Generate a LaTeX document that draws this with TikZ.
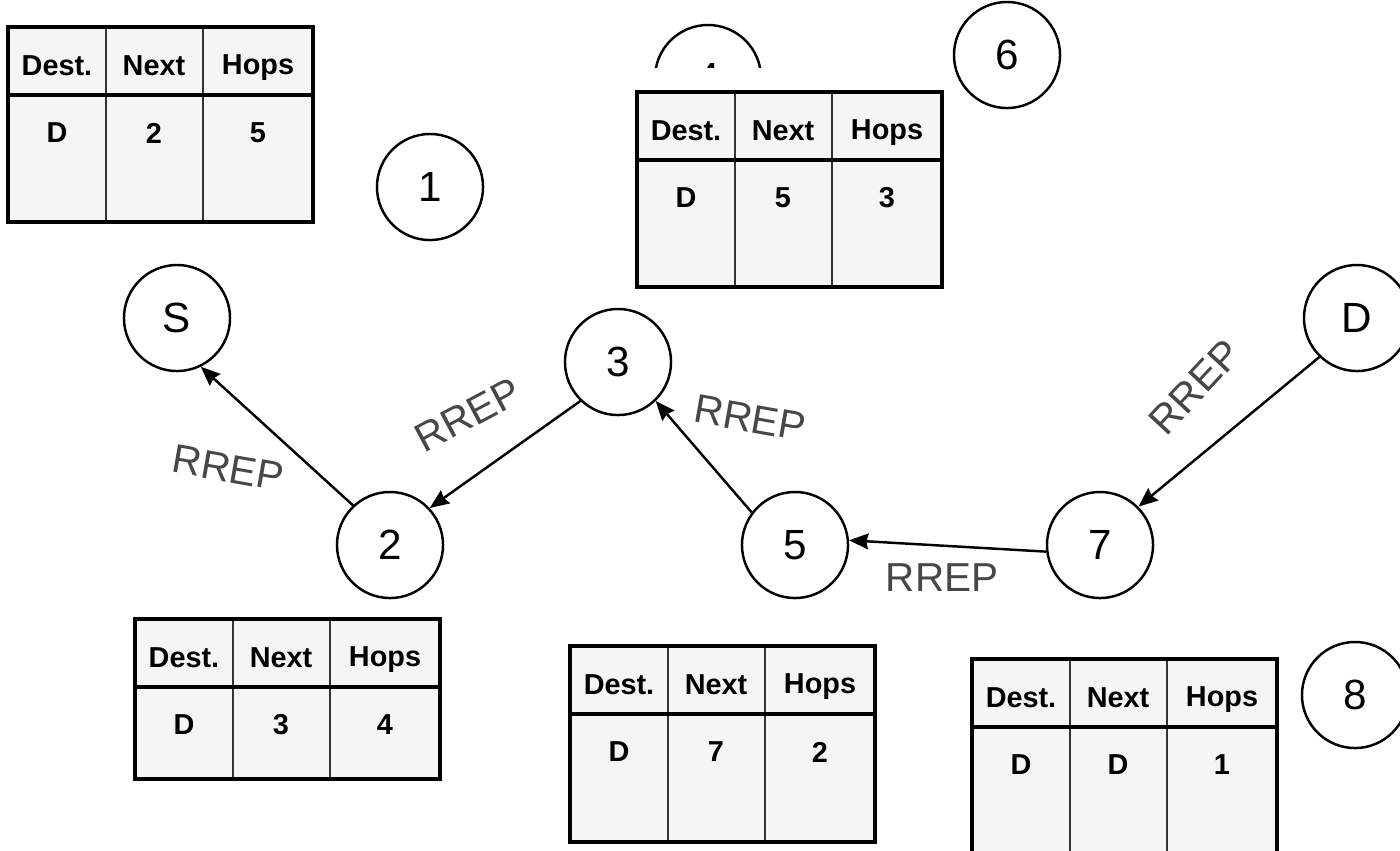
\documentclass[tikz,border=0pt]{standalone}
\usepackage{fontspec}
\setmainfont{Liberation Sans}
\usetikzlibrary{arrows.meta}

\tikzset{
  station/.style={circle,draw,line width=0.7pt,minimum size=1.06cm,inner sep=0pt,font=\fontsize{12}{12}\selectfont},
  rrep/.style={text=black!72,font=\fontsize{11.5}{11.5}\selectfont},
  cell/.style={font=\bfseries\fontsize{8.2}{8.2}\selectfont,inner sep=0pt},
  tablefill/.style={fill=black!4},
}

% routing table: name, left, top, height, next hop, hop count
\newcommand{\rtable}[6]{%
  \begin{scope}[shift={(#2,#3)}]
    \fill[tablefill] (0,0) rectangle (305,#4);
    \draw[line width=0.6pt,black!80] (98,0) -- (98,#4);
    \draw[line width=0.6pt,black!80] (195,0) -- (195,#4);
    \draw[line width=0.9pt] (0,68) -- (305,68);
    \draw[line width=1.1pt] (0,0) rectangle (305,#4);
    \node[cell] (#1-dest) at (49,39) {Dest.};
    \node[cell] (#1-next) at (146,39) {Next};
    \node[cell] (#1-hops) at (250,41) {Hops};
    \node[cell] (#1-d) at (49,106) {D};
    \node[cell] (#1-n) at (146,106) {#5};
    \node[cell] (#1-h) at (250,106) {#6};
  \end{scope}}

\begin{document}
\begin{tikzpicture}[x=0.01cm,y=-0.01cm,>={Stealth[length=5.5pt,width=4.5pt,inset=0.6pt]}]
  \useasboundingbox[fill=white] (0,0) rectangle (1400,850);

  % stations
  \node[station] (nS) at (177,318) {S};
  \node[station] (n1) at (430,187) {1};
  \node[station] (n6) at (1007,55) {6};
  \node[station] (n3) at (618,362) {3};
  \node[station] (n2) at (390,545) {2};
  \node[station] (n5) at (795,545) {5};
  \node[station] (n7) at (1100,545) {7};
  \node[station] (nD) at (1357,318) {D};
  \node[station] (n8) at (1355,695) {8};
  \begin{scope}
    \clip (600,0) rectangle (820,67);
    \node[station] (n4) at (708,78) {4};
  \end{scope}

  % reply path back to the source
  \draw[->,line width=0.7pt] (nD.226) -- (n7.45);
  \draw[->,line width=0.7pt] (n7.187) -- (n5.5);
  \draw[->,line width=0.7pt] (n5.143) -- (n3.314);
  \draw[->,line width=0.7pt] (n3.226) -- (n2.43);
  \draw[->,line width=0.7pt] (n2.133) -- (nS.296);

  \node[rrep,rotate=-10] (r1) at (228,468) {RREP};
  \node[rrep,rotate=28] (r2) at (468,415) {RREP};
  \node[rrep,rotate=-10] (r3) at (750,418) {RREP};
  \node[rrep] (r4) at (942,578) {RREP};
  \node[rrep,rotate=47] (r5) at (1195,387) {RREP};

  % routing tables
  \rtable{t1}{8}{27}{195}{2}{5}
  \rtable{t4}{637}{92}{195}{5}{3}
  \rtable{t2}{135}{619}{160}{3}{4}
  \rtable{t5}{570}{646}{196}{7}{2}
  \rtable{t8}{972}{659}{220}{D}{1}
\end{tikzpicture}
\end{document}
